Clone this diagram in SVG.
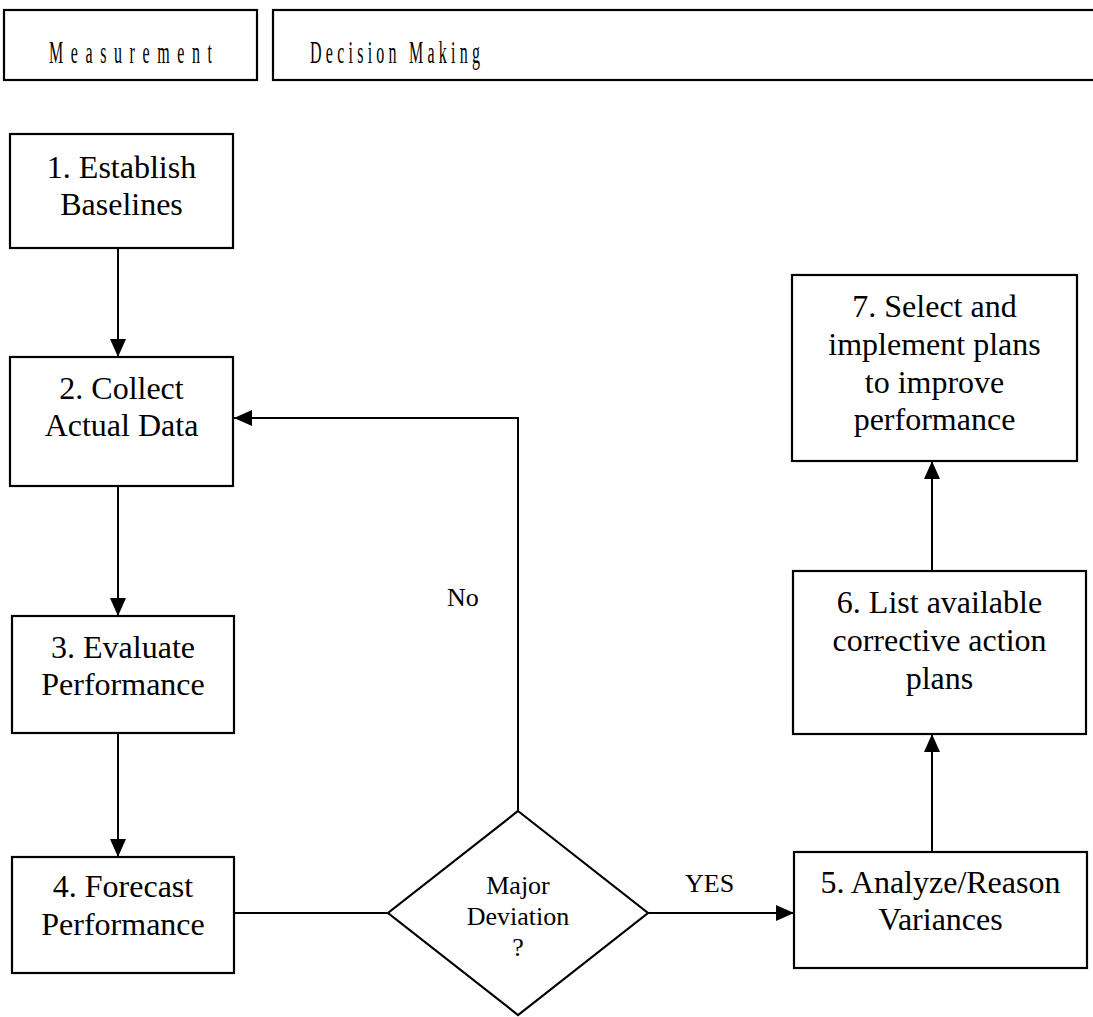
<svg xmlns="http://www.w3.org/2000/svg" width="1093" height="1017" viewBox="0 0 1093 1017">
  <style>
    .box { fill: #ffffff; stroke: #000000; stroke-width: 2.2; }
    .lbl { font-family: "Liberation Serif", "Times New Roman", serif; font-size: 32px; fill: #000000; text-anchor: middle; }
    .small { font-family: "Liberation Serif", "Times New Roman", serif; font-size: 26px; fill: #000000; }
    .head { font-family: "Liberation Serif", "Times New Roman", serif; font-size: 32px; fill: #000000; }
    .wire { fill: none; stroke: #000000; stroke-width: 2; }
  </style>
  <defs>
    <marker id="arrow" markerUnits="userSpaceOnUse" markerWidth="20" markerHeight="16" refX="18" refY="8" orient="auto">
      <path d="M0,0 L18,8 L0,16 z" fill="#000000"/>
    </marker>
  </defs>

  <rect width="1093" height="1017" fill="#ffffff"/>

  <!-- column headers (condensed, letter-spaced titles) -->
  <g id="header-measurement">
    <rect class="box" x="4" y="10" width="253" height="70"/>
    <text class="head" transform="scale(0.5,1)" x="98" y="63" textLength="326" lengthAdjust="spacing">Measurement</text>
  </g>
  <g id="header-decision">
    <rect class="box" x="273" y="10" width="830" height="70"/>
    <text class="head" transform="scale(0.5,1)" x="620" y="63" textLength="340" lengthAdjust="spacing">Decision Making</text>
  </g>

  <!-- connectors -->
  <g id="connectors">
    <line class="wire" x1="118" y1="248" x2="118" y2="357" marker-end="url(#arrow)"/>
    <line class="wire" x1="118" y1="486" x2="118" y2="616" marker-end="url(#arrow)"/>
    <line class="wire" x1="118" y1="733" x2="118" y2="857" marker-end="url(#arrow)"/>
    <line class="wire" x1="233" y1="913" x2="388" y2="913"/>
    <polyline class="wire" points="518,811 518,418 234,418" marker-end="url(#arrow)"/>
    <line class="wire" x1="648" y1="913" x2="794" y2="913" marker-end="url(#arrow)"/>
    <line class="wire" x1="932" y1="852" x2="932" y2="734" marker-end="url(#arrow)"/>
    <line class="wire" x1="932" y1="571" x2="932" y2="461" marker-end="url(#arrow)"/>
    <text class="small" x="447" y="606" font-size="25">No</text>
    <text class="small" x="685" y="892" font-size="25">YES</text>
  </g>

  <!-- process steps -->
  <g id="step1">
    <rect class="box" x="10" y="134" width="223" height="114"/>
    <text class="lbl" x="121.5" y="178">1. Establish</text>
    <text class="lbl" x="121.5" y="215">Baselines</text>
  </g>
  <g id="step2">
    <rect class="box" x="10" y="357" width="223" height="129"/>
    <text class="lbl" x="121.5" y="399">2. Collect</text>
    <text class="lbl" x="121.5" y="436">Actual Data</text>
  </g>
  <g id="step3">
    <rect class="box" x="12" y="616" width="222" height="117"/>
    <text class="lbl" x="123" y="658">3. Evaluate</text>
    <text class="lbl" x="123" y="695">Performance</text>
  </g>
  <g id="step4">
    <rect class="box" x="12" y="857" width="222" height="116"/>
    <text class="lbl" x="123" y="897">4. Forecast</text>
    <text class="lbl" x="123" y="935">Performance</text>
  </g>
  <g id="decision">
    <polygon class="box" points="518,811 648,913 518,1015 388,913"/>
    <text class="small" x="518" y="894" text-anchor="middle">Major</text>
    <text class="small" x="518" y="925" text-anchor="middle">Deviation</text>
    <text class="small" x="518" y="956" text-anchor="middle">?</text>
  </g>
  <g id="step5">
    <rect class="box" x="794" y="852" width="293" height="116"/>
    <text class="lbl" x="940.5" y="893">5. Analyze/Reason</text>
    <text class="lbl" x="940.5" y="930">Variances</text>
  </g>
  <g id="step6">
    <rect class="box" x="793" y="571" width="293" height="163"/>
    <text class="lbl" x="939.5" y="613">6. List available</text>
    <text class="lbl" x="939.5" y="651">corrective action</text>
    <text class="lbl" x="939.5" y="689">plans</text>
  </g>
  <g id="step7">
    <rect class="box" x="792" y="275" width="285" height="186"/>
    <text class="lbl" x="934.5" y="317">7. Select and</text>
    <text class="lbl" x="934.5" y="355">implement plans</text>
    <text class="lbl" x="934.5" y="393">to improve</text>
    <text class="lbl" x="934.5" y="430">performance</text>
  </g>
</svg>
